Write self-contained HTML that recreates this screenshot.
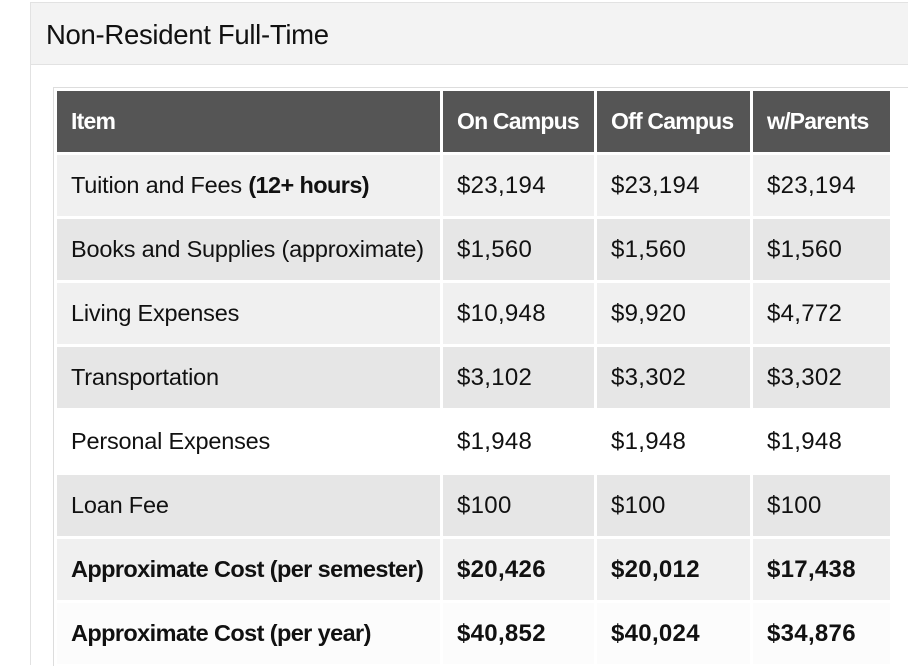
<!DOCTYPE html>
<html><head><style>
html,body{margin:0;padding:0;width:908px;height:665px;overflow:hidden;background:#fff;font-family:"Liberation Sans",sans-serif;}
.abs{position:absolute;}
.c{position:absolute;height:61px;line-height:61px;font-size:23.5px;color:#111;white-space:nowrap;overflow:hidden;box-sizing:border-box;padding-left:14px;letter-spacing:-0.2px;}
.v{font-size:24px;letter-spacing:0.3px;}
.h{background:#555;color:#fff;font-weight:bold;font-size:23px;letter-spacing:-0.8px;}
b{font-weight:bold;}
.c0 b{letter-spacing:-0.6px;}
</style></head><body>
<div class="abs" style="left:30px;top:2px;width:877px;height:662px;border-left:1px solid #e2e2e2;border-top:1px solid #e2e2e2;background:#fff"></div>
<div class="abs" style="left:31px;top:3px;width:877px;height:61px;background:#f3f3f3;border-bottom:1px solid #e2e2e2"></div>
<div class="abs" style="left:46px;top:19px;font-size:27.5px;color:#111;letter-spacing:-0.3px">Non-Resident Full-Time</div>
<div class="abs" style="left:53px;top:87px;width:855px;height:578px;border-left:1px solid #ddd;border-top:1px solid #ddd"></div>
<div id="t"></div>
<script>
var cols=[[57,383],[443,151],[597,153],[753,137]];
var rows=[
["<b>Item</b>","On Campus","Off Campus","w/Parents","h"],
["Tuition and Fees <b>(12+ hours)</b>","$23,194","$23,194","$23,194","#f0f0f0"],
["Books and Supplies (approximate)","$1,560","$1,560","$1,560","#e6e6e6"],
["Living Expenses","$10,948","$9,920","$4,772","#f0f0f0"],
["Transportation","$3,102","$3,302","$3,302","#e6e6e6"],
["Personal Expenses","$1,948","$1,948","$1,948","#fff"],
["Loan Fee","$100","$100","$100","#e6e6e6"],
["<b>Approximate Cost (per semester)</b>","<b>$20,426</b>","<b>$20,012</b>","<b>$17,438</b>","#f0f0f0"],
["<b>Approximate Cost (per year)</b>","<b>$40,852</b>","<b>$40,024</b>","<b>$34,876</b>","#fcfcfc"]];
var h="";
rows.forEach(function(r,i){var top=91+i*64;
for(var j=0;j<4;j++){var hd=r[4]=="h";
h+='<div class="c'+(hd?' h':(j>0?' v':' c0'))+'" style="left:'+cols[j][0]+'px;top:'+top+'px;width:'+cols[j][1]+'px;'+(hd?'':'background:'+r[4])+'">'+r[j]+'</div>';}});
document.getElementById("t").innerHTML=h;
</script>
</body></html>
